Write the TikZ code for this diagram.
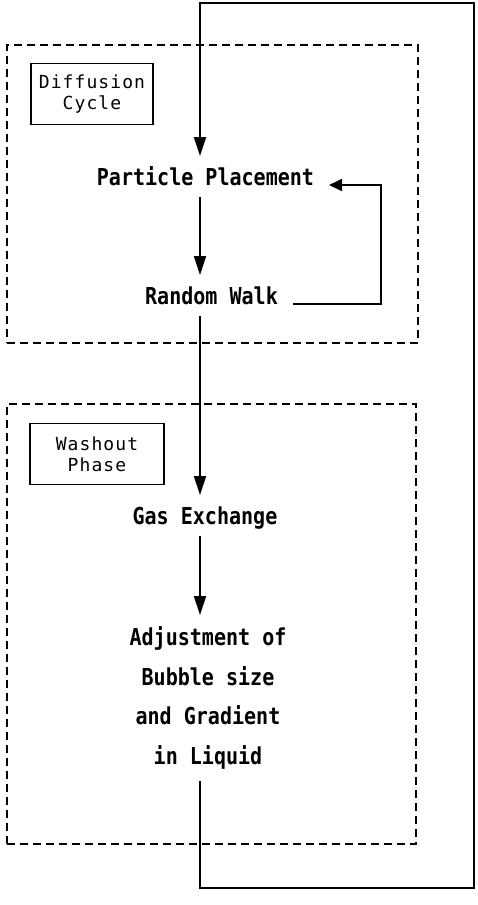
\documentclass[tikz,border=0pt]{standalone}
\usepackage{fontspec}
\usetikzlibrary{arrows.meta}
\newfontfamily\plotfont[FakeStretch=0.86]{DejaVu Sans Mono Bold}
\newfontfamily\labfont[LetterSpace=6.0]{DejaVu Sans Mono}
\begin{document}
\begin{tikzpicture}[x=1pt,y=-1pt,
  line width=1.9pt,
  arr/.style={-{Triangle[length=19pt,width=12pt]}},
  arrh/.style={-{Triangle[length=13pt,width=12pt]}},
  stagefont/.style={font=\plotfont\fontsize{23.3}{39.7}\selectfont},
  stage/.style={stagefont, inner xsep=14pt, inner ysep=11pt, text height=17pt, text depth=0pt, anchor=base},
  tag/.style={draw, font=\labfont\fontsize{18}{21}\selectfont, align=center, inner sep=0pt},
  region/.style={draw, dash pattern=on 8pt off 5pt, inner sep=0pt}
]
\useasboundingbox (0,0) rectangle (478,905);

\node[region, minimum width=411pt, minimum height=298pt] (box1) at (212.5,194) {};
\node[region, minimum width=409pt, minimum height=440pt] (box2) at (211.5,624) {};

\node[tag, minimum width=122pt, minimum height=61pt] (lab1) at (92,94) {Diffusion\\Cycle};
\node[tag, minimum width=134pt, minimum height=61pt] (lab2) at (97,454) {Washout\\Phase};

\node[stage] (pp) at (205.5,185) {Particle Placement};
\node[stage] (rw) at (211.5,304) {Random Walk};
\node[stage] (ge) at (205,524) {Gas Exchange};
\node[stagefont, align=center, anchor=north, inner xsep=14pt, inner ysep=10.5pt] (adj) at (208,615)
  {Adjustment of\\Bubble size\\and Gradient\\in Liquid};

\coordinate (spine) at (200,0);
\coordinate (fb) at (381,0);
\coordinate (loopB) at (474,888);
\coordinate (loopT) at (474,3);

\draw[arr] (pp.south -| spine) -- (rw.north -| spine);
\draw[arr] (rw.south -| spine) -- (ge.north -| spine);
\draw[arr] (ge.south -| spine) -- (adj.north -| spine);
\draw[arrh] (rw.base east) -- (rw.base east -| fb) |- (pp.base east);
\draw[arr] (adj.south -| spine) |- (loopB) -- (loopT) -| (pp.north -| spine);
\end{tikzpicture}
\end{document}
